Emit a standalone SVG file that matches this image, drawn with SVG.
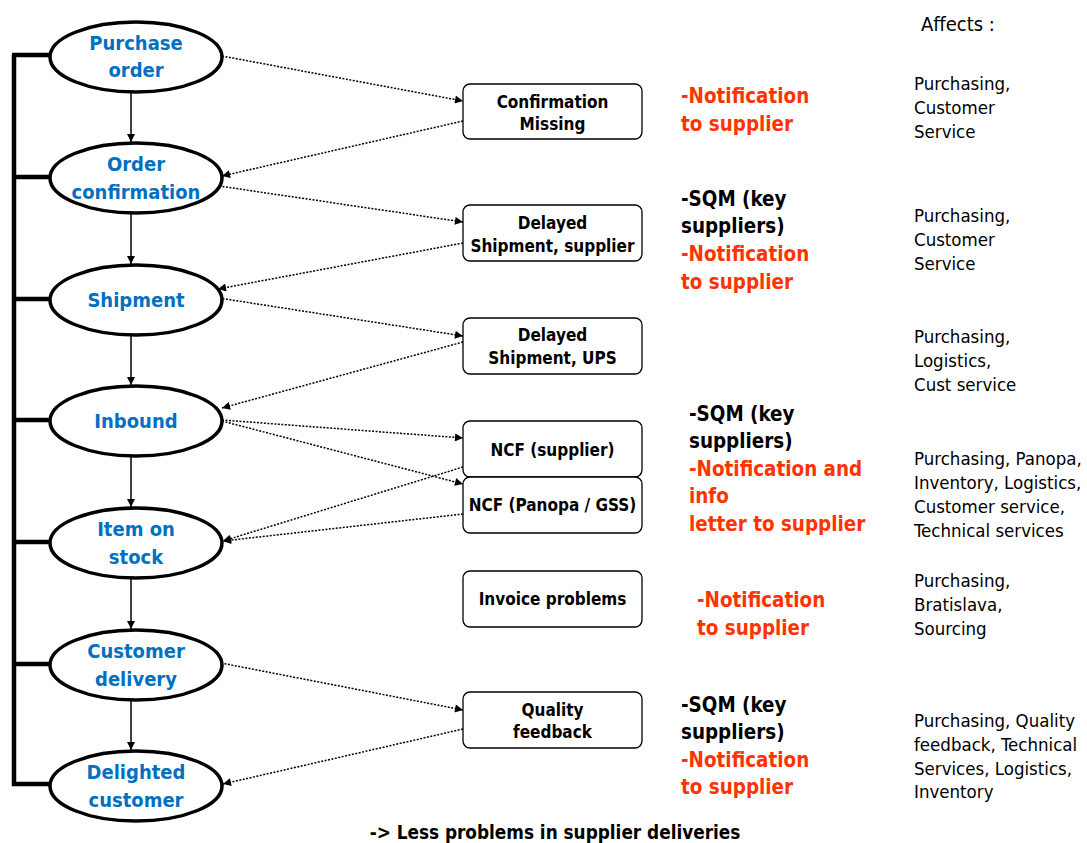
<svg xmlns="http://www.w3.org/2000/svg" width="1087" height="843" viewBox="0 0 1087 843">
  <style>
    .stage { fill: #ffffff; stroke: #000000; stroke-width: 3.5; }
    .stage-label { font-family: "DejaVu Sans Condensed", "DejaVu Sans", sans-serif; font-stretch: condensed; font-weight: bold; font-size: 20px; fill: #0070C0; text-anchor: middle; }
    .issue { fill: #ffffff; stroke: #000000; stroke-width: 1.3; }
    .issue-label { font-family: "DejaVu Sans Condensed", "DejaVu Sans", sans-serif; font-stretch: condensed; font-weight: bold; font-size: 17px; fill: #000000; text-anchor: middle; }
    .action { font-family: "DejaVu Sans Condensed", "DejaVu Sans", sans-serif; font-stretch: condensed; font-weight: bold; font-size: 20.4px; }
    .black { fill: #000000; }
    .red { fill: #FF3300; }
    .affects { font-family: "DejaVu Sans Condensed", "DejaVu Sans", sans-serif; font-stretch: condensed; font-size: 18.5px; fill: #000000; }
    .flow { stroke: #000000; stroke-width: 1.5; fill: none; marker-end: url(#solid); }
    .link { stroke: #000000; stroke-width: 1.5; stroke-dasharray: 2 1.5; fill: none; marker-end: url(#solid); }
    .bracket { stroke: #000000; stroke-width: 4.5; fill: none; }
  </style>
  <defs>
    <marker id="solid" viewBox="0 0 10 10" refX="10" refY="5" markerWidth="9" markerHeight="8" markerUnits="userSpaceOnUse" orient="auto">
      <path d="M0,0 L10,5 L0,10 z" fill="#000000"/>
    </marker>
  </defs>

  <rect width="1087" height="843" fill="#ffffff"/>

  <!-- feedback loop bracket on the left -->
  <g id="bracket">
    <path class="bracket" d="M14,55 V786 M12,55 H52 M12,177 H52 M12,299 H52 M12,420 H52 M12,542 H52 M12,664 H52 M12,784 H52"/>
  </g>

  <!-- connectors -->
  <g id="connectors">
    <line class="flow" x1="131" y1="92" x2="131" y2="142"/>
    <line class="flow" x1="131" y1="213" x2="131" y2="264"/>
    <line class="flow" x1="131" y1="335" x2="131" y2="385"/>
    <line class="flow" x1="131" y1="456" x2="131" y2="507"/>
    <line class="flow" x1="131" y1="578" x2="131" y2="629"/>
    <line class="flow" x1="131" y1="700" x2="131" y2="750"/>

    <line class="link" x1="222" y1="56" x2="463" y2="101"/>
    <line class="link" x1="463" y1="121" x2="222" y2="176"/>
    <line class="link" x1="219" y1="186" x2="463" y2="222"/>
    <line class="link" x1="463" y1="243" x2="218" y2="289"/>
    <line class="link" x1="219" y1="298" x2="463" y2="336"/>
    <line class="link" x1="463" y1="342" x2="222" y2="408"/>
    <line class="link" x1="222" y1="420" x2="463" y2="438"/>
    <line class="link" x1="222" y1="421" x2="463" y2="484"/>
    <line class="link" x1="463" y1="467" x2="223" y2="541"/>
    <line class="link" x1="463" y1="514" x2="223" y2="541"/>
    <line class="link" x1="221" y1="663" x2="463" y2="710"/>
    <line class="link" x1="463" y1="729" x2="223" y2="784"/>
  </g>

  <!-- process stages -->
  <g id="purchase-order">
    <ellipse class="stage" cx="136" cy="57" rx="86" ry="35"/>
    <text class="stage-label" x="136" y="50">Purchase</text>
    <text class="stage-label" x="136" y="77">order</text>
  </g>
  <g id="order-confirmation">
    <ellipse class="stage" cx="136" cy="178" rx="86" ry="35"/>
    <text class="stage-label" x="136" y="171">Order</text>
    <text class="stage-label" x="136" y="199">confirmation</text>
  </g>
  <g id="shipment">
    <ellipse class="stage" cx="136" cy="300" rx="86" ry="35"/>
    <text class="stage-label" x="136" y="307">Shipment</text>
  </g>
  <g id="inbound">
    <ellipse class="stage" cx="136" cy="421" rx="86" ry="35"/>
    <text class="stage-label" x="136" y="428">Inbound</text>
  </g>
  <g id="item-on-stock">
    <ellipse class="stage" cx="136" cy="543" rx="86" ry="35"/>
    <text class="stage-label" x="136" y="536">Item on</text>
    <text class="stage-label" x="136" y="564">stock</text>
  </g>
  <g id="customer-delivery">
    <ellipse class="stage" cx="136" cy="665" rx="86" ry="35"/>
    <text class="stage-label" x="136" y="658">Customer</text>
    <text class="stage-label" x="136" y="686">delivery</text>
  </g>
  <g id="delighted-customer">
    <ellipse class="stage" cx="136" cy="786" rx="86" ry="35"/>
    <text class="stage-label" x="136" y="779">Delighted</text>
    <text class="stage-label" x="136" y="807">customer</text>
  </g>

  <!-- issue boxes -->
  <g id="confirmation-missing">
    <rect class="issue" x="463" y="84" width="179" height="55" rx="7"/>
    <text class="issue-label" x="552.5" y="108">Confirmation</text>
    <text class="issue-label" x="552.5" y="130">Missing</text>
  </g>
  <g id="delayed-supplier">
    <rect class="issue" x="463" y="205" width="179" height="56" rx="7"/>
    <text class="issue-label" x="552.5" y="229">Delayed</text>
    <text class="issue-label" x="552.5" y="252">Shipment, supplier</text>
  </g>
  <g id="delayed-ups">
    <rect class="issue" x="463" y="318" width="179" height="56" rx="7"/>
    <text class="issue-label" x="552.5" y="341">Delayed</text>
    <text class="issue-label" x="552.5" y="364">Shipment, UPS</text>
  </g>
  <g id="ncf-supplier">
    <rect class="issue" x="463" y="421" width="179" height="56" rx="7"/>
    <text class="issue-label" x="552.5" y="456">NCF (supplier)</text>
  </g>
  <g id="ncf-panopa">
    <rect class="issue" x="463" y="477" width="179" height="56" rx="7"/>
    <text class="issue-label" x="552.5" y="511">NCF (Panopa / GSS)</text>
  </g>
  <g id="invoice-problems">
    <rect class="issue" x="463" y="571" width="179" height="56" rx="7"/>
    <text class="issue-label" x="552.5" y="605">Invoice problems</text>
  </g>
  <g id="quality-feedback">
    <rect class="issue" x="463" y="692" width="179" height="56" rx="7"/>
    <text class="issue-label" x="552.5" y="716">Quality</text>
    <text class="issue-label" x="552.5" y="738">feedback</text>
  </g>

  <!-- actions -->
  <g id="actions" class="action">
    <text class="red" x="681" y="103">-Notification</text>
    <text class="red" x="681" y="131">to supplier</text>

    <text class="black" x="681" y="206">-SQM (key</text>
    <text class="black" x="681" y="233">suppliers)</text>
    <text class="red" x="681" y="261">-Notification</text>
    <text class="red" x="681" y="289">to supplier</text>

    <text class="black" x="689" y="421">-SQM (key</text>
    <text class="black" x="689" y="448">suppliers)</text>
    <text class="red" x="689" y="476">-Notification and</text>
    <text class="red" x="689" y="503">info</text>
    <text class="red" x="689" y="531">letter to supplier</text>

    <text class="red" x="697" y="607">-Notification</text>
    <text class="red" x="697" y="635">to supplier</text>

    <text class="black" x="681" y="712">-SQM (key</text>
    <text class="black" x="681" y="739">suppliers)</text>
    <text class="red" x="681" y="767">-Notification</text>
    <text class="red" x="681" y="794">to supplier</text>
  </g>

  <!-- affected departments -->
  <g id="affects" class="affects">
    <text x="921" y="31" font-size="20">Affects :</text>

    <text x="914" y="90">Purchasing,</text>
    <text x="914" y="114">Customer</text>
    <text x="914" y="138">Service</text>

    <text x="914" y="222">Purchasing,</text>
    <text x="914" y="246">Customer</text>
    <text x="914" y="270">Service</text>

    <text x="914" y="343">Purchasing,</text>
    <text x="914" y="367">Logistics,</text>
    <text x="914" y="391">Cust service</text>

    <text x="914" y="465">Purchasing, Panopa,</text>
    <text x="914" y="489">Inventory, Logistics,</text>
    <text x="914" y="513">Customer service,</text>
    <text x="914" y="537">Technical services</text>

    <text x="914" y="587">Purchasing,</text>
    <text x="914" y="611">Bratislava,</text>
    <text x="914" y="635">Sourcing</text>

    <text x="914" y="727">Purchasing, Quality</text>
    <text x="914" y="751">feedback, Technical</text>
    <text x="914" y="775">Services, Logistics,</text>
    <text x="914" y="798">Inventory</text>
  </g>

  <!-- summary -->
  <g id="summary">
    <text x="555" y="839" text-anchor="middle" font-family="DejaVu Sans Condensed, DejaVu Sans, sans-serif" font-stretch="condensed" font-weight="bold" font-size="18.8">-&gt; Less problems in supplier deliveries</text>
  </g>
</svg>
